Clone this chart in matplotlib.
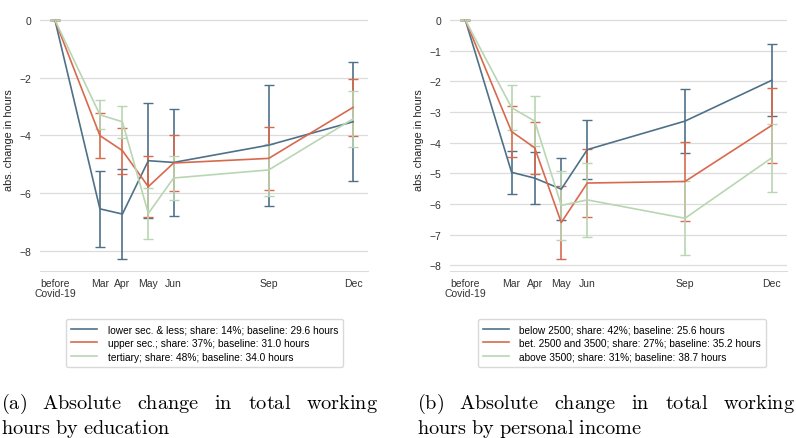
import numpy as np
import matplotlib.pyplot as plt
from matplotlib.lines import Line2D

plt.rcParams['font.family'] = ['Liberation Sans', 'DejaVu Sans']
plt.rcParams['mathtext.fontset'] = 'cm'

# survey waves (month positions)
months = ['before\nCovid-19', 'Mar', 'Apr', 'May', 'Jun', 'Sep', 'Dec']
xpos = [1.4, 3.0, 3.8, 4.72, 5.62, 9.0, 12.0]

# (a) by education: mean change and half-width of the error bar
edu_labels = ['lower sec. & less; share: 14%; baseline: 29.6 hours',
              'upper sec.; share: 37%; baseline: 31.0 hours',
              'tertiary; share: 48%; baseline: 34.0 hours']
edu_mean = [[0, -6.55, -6.73, -4.88, -4.94, -4.34, -3.53],
            [0, -4.01, -4.53, -5.78, -4.96, -4.80, -3.03],
            [0, -3.29, -3.53, -6.71, -5.48, -5.20, -3.43]]
edu_err = [[0, 1.32, 1.56, 2.0, 1.86, 2.1, 2.06],
           [0, 0.77, 0.80, 1.05, 0.96, 1.1, 1.0],
           [0, 0.50, 0.56, 0.90, 0.78, 0.9, 0.97]]

# (b) by personal income
inc_labels = ['below 2500; share: 42%; baseline: 25.6 hours',
              'bet. 2500 and 3500; share: 27%; baseline: 35.2 hours',
              'above 3500; share: 31%; baseline: 38.7 hours']
inc_mean = [[0, -4.97, -5.16, -5.52, -4.23, -3.30, -1.97],
            [0, -3.64, -4.17, -6.61, -5.32, -5.27, -3.44],
            [0, -2.86, -3.30, -6.05, -5.87, -6.47, -4.50]]
inc_err = [[0, 0.70, 0.84, 1.02, 0.95, 1.05, 1.17],
           [0, 0.82, 0.84, 1.19, 1.12, 1.3, 1.22],
           [0, 0.73, 0.82, 1.13, 1.20, 1.2, 1.12]]

colors = ['#4e7189', '#d8694d', '#b8d6b2']

W, H = 796, 439
fig = plt.figure(figsize=(W / 100, H / 100), dpi=100)


def panel(rect, means, errs, labels, yticks, leg_x):
    ax = fig.add_axes(rect)
    for m, e, c in zip(means, errs, colors):
        ax.errorbar(xpos, m, yerr=e, color=c, lw=1.2, elinewidth=1.2,
                    capsize=3.5, capthick=1.0)
    ax.set_xticks(xpos)
    ax.set_xticklabels(months, fontsize=7.5, color='#333333', linespacing=1.0)
    ax.set_yticks(yticks)
    ax.tick_params(axis='y', labelsize=7.5, labelcolor='#333333', length=0, pad=6)
    ax.tick_params(axis='x', length=0, pad=5)
    ax.grid(axis='y', color='#dcdcdc', lw=0.9)
    ax.set_axisbelow(True)
    for s in ['top', 'right', 'left']:
        ax.spines[s].set_visible(False)
    ax.spines['bottom'].set_color('#dcdcdc')
    ax.set_ylabel('abs. change in hours', fontsize=7.8, color='#222222', labelpad=4)
    handles = [Line2D([], [], color=c, lw=1.2) for c in colors]
    fig.legend(handles=handles, labels=labels,
               loc='upper center', bbox_to_anchor=(leg_x, 1 - 315 / H),
               fontsize=7.3, frameon=True, edgecolor='#d0d0d0', fancybox=True,
               handlelength=2.6, labelspacing=0.38, borderpad=0.5,
               handletextpad=1.0)
    return ax


panel([40 / W, 1 - 272 / H, 328 / W, 263 / H], edu_mean, edu_err, edu_labels,
      [0, -2, -4, -6, -8], 204.5 / W)
panel([450 / W, 1 - 272 / H, 337 / W, 263 / H], inc_mean, inc_err, inc_labels,
      [0, -1, -2, -3, -4, -5, -6, -7, -8], 622 / W)

# captions, first line justified
fig.canvas.draw()
renderer = fig.canvas.get_renderer()


def caption(line1, line2, x0, x1):
    words = line1.split()
    texts = [fig.text(0, 1 - 409 / H, r'$\mathrm{%s}$' % w, fontsize=14.6)
             for w in words]
    widths = [t.get_window_extent(renderer).width for t in texts]
    gap = (x1 - x0 - sum(widths)) / (len(words) - 1)
    x = x0
    for t, w in zip(texts, widths):
        t.set_x(x / W)
        x += w + gap
    fig.text(x0 / W, 1 - 434 / H, r'$\mathrm{%s}$' % line2.replace(' ', r'\ '),
             fontsize=14.6)


caption('(a) Absolute change in total working', 'hours by education', 1, 378)
caption('(b) Absolute change in total working', 'hours by personal income', 417, 795)

fig.savefig('out.png', dpi=100)
